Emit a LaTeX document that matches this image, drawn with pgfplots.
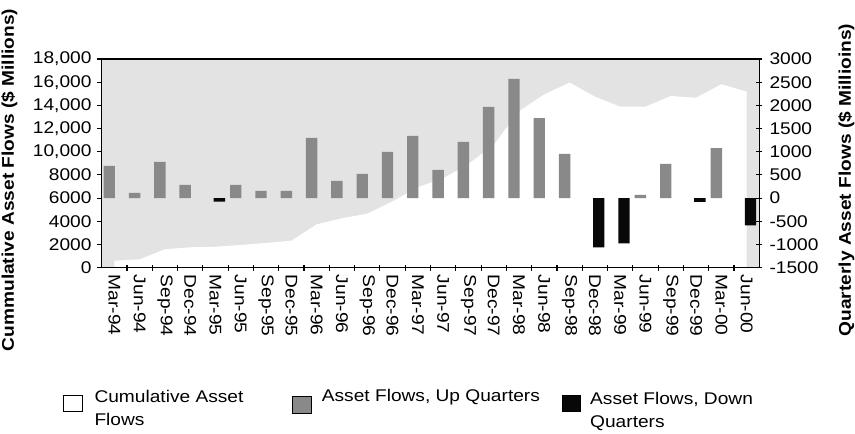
\documentclass[border=0pt]{standalone}
\usepackage{pgfplots}
\pgfplotsset{compat=1.18}
\usepackage{fontspec}
\setmainfont{Liberation Sans}[FakeStretch=1.13]
\definecolor{bg}{RGB}{227,227,227}
\definecolor{upgrey}{RGB}{137,137,137}
\definecolor{downblack}{RGB}{8,8,8}
\newcommand{\fs}{\fontsize{17}{20}\selectfont}
\begin{document}
\begin{tikzpicture}[x=1bp,y=1bp,font=\fs]
\useasboundingbox (0,0) rectangle (855,434);
\begin{axis}[
  at={(101.7bp,166.3bp)}, anchor=south west,
  width=657.6bp, height=208.7bp, scale only axis,
  xmin=-0.5, xmax=25.5, ymin=0, ymax=18000,
  scaled y ticks=false,
  axis background/.style={fill=bg},
  axis line style={line width=1.3bp},
  tick style={line width=1.1bp, black},
  xtick={0,...,25},
  xticklabels={Mar-94,Jun-94,Sep-94,Dec-94,Mar-95,Jun-95,Sep-95,Dec-95,Mar-96,Jun-96,Sep-96,Dec-96,Mar-97,Jun-97,Sep-97,Dec-97,Mar-98,Jun-98,Sep-98,Dec-98,Mar-99,Jun-99,Sep-99,Dec-99,Mar-00,Jun-00},
  xtick style={draw=none},
  xticklabel style={yshift=-7bp, rotate=-90, anchor=west, inner sep=0pt, font=\fs},
  ytick={0,2000,...,18000},
  yticklabels={0,2000,4000,6000,8000,{10,000},{12,000},{14,000},{16,000},{18,000}},
  ytick pos=left, ytick align=outside, major tick length=5bp,
  yticklabel style={anchor=east, inner sep=0pt, xshift=-5bp, font=\fs},
]
\addplot[fill=white, draw=none] coordinates {
(0,600)(1,720)(2,1590)(3,1760)(4,1810)(5,1960)(6,2130)(7,2330)(8,3740)(9,4260)
(10,4660)(11,5720)(12,6950)(13,7700)(14,8950)(15,10600)(16,13500)(17,14950)
(18,15970)(19,14750)(20,13890)(21,13890)(22,14810)(23,14660)(24,15820)(25,15180)
} \closedcycle;
\end{axis}
\begin{axis}[
  at={(101.7bp,166.3bp)}, anchor=south west,
  width=657.6bp, height=208.7bp, scale only axis,
  xmin=-0.5, xmax=25.5, ymin=-1500, ymax=3000,
  scaled y ticks=false,
  axis line style={line width=1.3bp},
  tick style={line width=1.1bp, black},
  xtick={0.5,1.5,...,24.5}, xticklabels={},
  xtick pos=bottom, xtick align=center,
  ytick={-1500,-1000,...,3000},
  yticklabels={-1500,-1000,-500,0,500,1000,1500,2000,2500,3000},
  ytick pos=right, ytick align=center, major tick length=6bp,
  yticklabel style={anchor=west, inner sep=0pt, xshift=7bp, font=\fs},
]
\addplot[ybar, bar width=0.45, bar shift=-0.2, fill=upgrey, draw=none] coordinates {
(0,695)(1,114)(2,782)(3,286)(5,286)(6,157)(7,157)(8,1298)(9,372)(10,523)(11,997)
(12,1341)(13,610)(14,1212)(15,1966)(16,2569)(17,1727)(18,954)(21,71)(22,736)(24,1080)
};
\addplot[ybar, bar width=0.45, bar shift=0.15, fill=downblack, draw=none] coordinates {
(4,-75)(19,-1064)(20,-977)(23,-80)(25,-590)
};
\end{axis}
% axis titles
\node[rotate=90, anchor=north, inner sep=0pt, font=\fs\bfseries] at (1,254) {Cummulative Asset Flows (\$ Millions)};
\node[rotate=90, anchor=north, inner sep=0pt, font=\fs\bfseries] at (838,254) {Quarterly Asset Flows (\$ Millioins)};
% legend
\draw[line width=0.8bp, fill=white] (63.5,22.3) rectangle (82.5,39);
\node[anchor=base west, inner sep=0pt] at (94.3,31.3) {Cumulative Asset};
\node[anchor=base west, inner sep=0pt] at (94.3,8) {Flows};
\draw[line width=0.8bp, fill=upgrey] (292,20.7) rectangle (311.5,37.3);
\node[anchor=base west, inner sep=0pt] at (321.7,32.3) {Asset Flows, Up Quarters};
\draw[line width=0.8bp, fill=downblack] (562.5,22.3) rectangle (580.5,39);
\node[anchor=base west, inner sep=0pt] at (590,29) {Asset Flows, Down};
\node[anchor=base west, inner sep=0pt] at (590,6) {Quarters};
\end{tikzpicture}
\end{document}
